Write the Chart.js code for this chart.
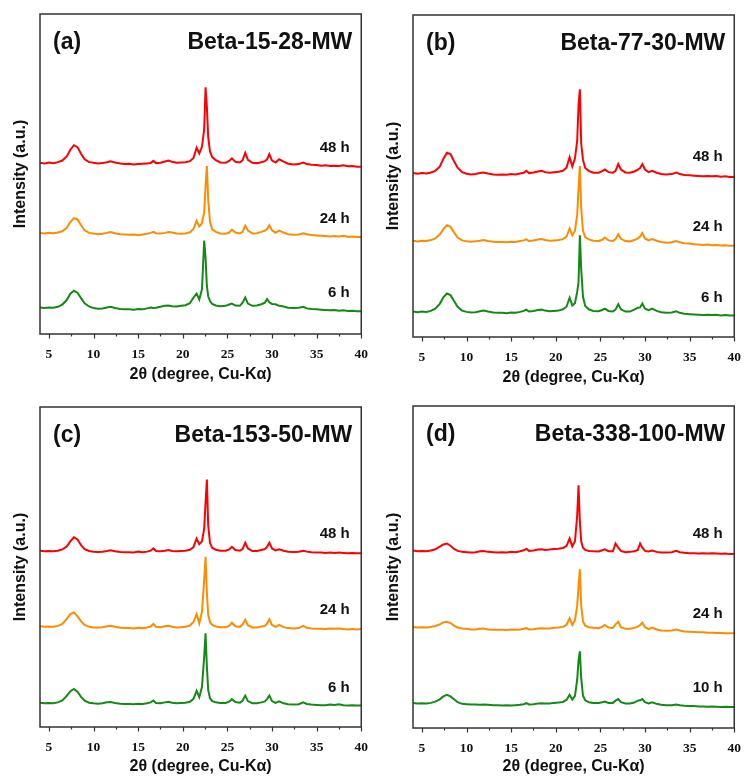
<!DOCTYPE html>
<html>
<head>
<meta charset="utf-8">
<script src="https://cdn.jsdelivr.net/npm/chart.js@4.4.1/dist/chart.umd.min.js"></script>
<style>
  body { margin: 0; background: #fff; }
  #page { position: relative; width: 745px; height: 776px; overflow: hidden; }
  .panel { position: absolute; }
</style>
</head>
<body>
<div id="page">
  <div class="panel" style="left:0;top:0"><canvas id="chart-a" width="372" height="390"></canvas></div>
  <div class="panel" style="left:372px;top:0"><canvas id="chart-b" width="373" height="390"></canvas></div>
  <div class="panel" style="left:0;top:390px"><canvas id="chart-c" width="372" height="386"></canvas></div>
  <div class="panel" style="left:372px;top:390px"><canvas id="chart-d" width="373" height="386"></canvas></div>
</div>
<script>
// 2θ (degree) grid shared by every pattern
const twoTheta = [
  4, 4.5, 5, 5.5, 6, 6.5, 7,
  7.4, 7.8, 8.2, 8.6, 9, 9.5, 10,
  10.5, 11, 11.5, 11.9, 12.4, 13, 13.5,
  14, 14.5, 15, 15.5, 16, 16.4, 16.7,
  17, 17.5, 18, 18.4, 18.8, 19.3, 19.8,
  20.3, 20.8, 21.2, 21.55, 21.85, 22.15, 22.4,
  22.55, 22.7, 22.85, 23.05, 23.3, 23.7, 24.2,
  24.8, 25.2, 25.5, 25.9, 26.4, 26.7, 27.0,
  27.3, 27.8, 28.3, 28.8, 29.2, 29.45, 29.7,
  30.0, 30.4, 30.8, 31.3, 31.8, 32.4, 33.0,
  33.5, 33.9, 34.4, 35.0, 35.5, 36.0, 36.5,
  37.0, 37.5, 38.0, 38.5, 39.0, 39.5, 40
];

// (a) Beta-15-28-MW, stacked intensities (a.u.)
const a48 = [
  53.5, 53.3, 53.6, 53.4, 53.7, 54.2, 55.5,
  57.6, 59.0, 58.4, 56.3, 54.6, 53.7, 53.5,
  53.3, 53.4, 53.7, 54.0, 53.6, 53.3, 53.1,
  53.2, 53.0, 53.1, 53.2, 53.3, 53.4, 54.1,
  53.4, 53.5, 53.9, 54.2, 53.8, 53.5, 53.6,
  53.7, 54.0, 55.0, 58.2, 56.4, 58.5, 64.0,
  77.1, 71.0, 61.5, 57.0, 55.3, 54.3, 53.6,
  53.5, 54.1, 54.9, 53.8, 53.6, 54.3, 56.6,
  54.4, 53.5, 53.4, 53.7, 54.0, 54.6, 56.2,
  54.2, 53.6, 54.6, 53.9, 53.2, 53.0, 53.1,
  53.6, 53.1, 52.9, 52.8, 52.6, 52.7, 52.5,
  52.6, 52.5, 52.7, 52.4, 52.5, 52.3, 52.3
];
const a24 = [
  31.6, 31.4, 31.6, 31.5, 31.7, 32.1, 33.2,
  35.0, 36.2, 35.8, 34.0, 32.4, 31.6, 31.4,
  31.2, 31.3, 31.6, 31.9, 31.5, 31.2, 31.1,
  31.0, 31.1, 30.9, 31.1, 31.3, 31.6, 31.9,
  31.5, 31.4, 31.6, 31.9, 31.7, 31.4, 31.3,
  31.4, 31.8, 32.8, 35.4, 33.6, 34.6, 38.0,
  46.0, 52.5, 42.0, 35.0, 32.7, 31.9, 31.4,
  31.3, 31.7, 32.6, 31.7, 31.4, 31.9, 33.8,
  32.3, 31.4, 31.5, 31.9, 32.3, 32.8, 34.0,
  32.4, 31.6, 32.3, 31.7, 31.2, 31.0, 31.1,
  31.5, 31.2, 30.9, 30.8, 30.7, 30.6, 30.5,
  30.6, 30.5, 30.7, 30.4, 30.5, 30.3, 30.3
];
const a6 = [
  8.3, 8.1, 8.3, 8.2, 8.5, 9.2, 10.6,
  12.6, 13.5, 12.9, 11.2, 9.6, 8.6, 8.1,
  7.9, 8.0, 8.3, 8.5, 8.1, 7.8, 7.7,
  7.7, 7.6, 7.8, 7.7, 8.0, 8.3, 8.1,
  8.2, 8.5, 8.8, 8.9, 8.7, 8.6, 8.8,
  9.0, 9.6, 11.4, 12.6, 10.8, 14.0, 29.2,
  24.0, 15.0, 11.8, 10.3, 9.4, 8.9, 8.7,
  8.8, 9.2, 9.5, 8.9, 8.8, 9.8, 11.4,
  9.5, 8.8, 8.9, 9.3, 9.8, 10.9, 9.9,
  9.4, 9.3, 8.8, 8.6, 8.2, 8.1, 8.2,
  8.5, 8.0, 7.8, 7.7, 7.6, 7.5, 7.4,
  7.5, 7.3, 7.4, 7.2, 7.3, 7.1, 7.1
];

// (b) Beta-77-30-MW
const b48 = [
  50.9, 50.7, 50.9, 50.8, 51.1, 51.6, 52.9,
  55.3, 57.2, 56.8, 54.6, 52.6, 51.2, 50.7,
  50.5, 50.6, 50.9, 51.1, 50.8, 50.5, 50.4,
  50.5, 50.4, 50.6, 50.5, 50.8, 51.0, 51.6,
  50.9, 51.1, 51.4, 51.6, 51.2, 51.0, 51.2,
  51.3, 51.6, 52.6, 55.8, 53.0, 55.5, 61.0,
  72.0, 76.9, 60.0, 55.0, 52.5, 51.6, 51.0,
  51.0, 51.5, 52.0, 51.2, 51.0, 51.6, 53.7,
  52.0, 51.1, 51.0, 51.4, 52.0, 52.5, 53.7,
  52.0, 51.2, 51.6, 51.0, 50.6, 50.5, 50.6,
  51.1, 50.6, 50.3, 50.2, 50.1, 50.0, 49.9,
  50.0, 49.9, 50.0, 49.8, 49.9, 49.7, 49.7
];
const b24 = [
  29.9, 29.7, 29.9, 29.8, 30.1, 30.6, 31.8,
  33.5, 34.7, 34.2, 32.5, 30.9, 30.0, 29.7,
  29.6, 29.7, 29.9, 30.1, 29.8, 29.6, 29.5,
  29.5, 29.4, 29.6, 29.5, 29.8, 30.0, 30.3,
  29.8, 30.0, 30.3, 30.4, 30.1, 29.9, 30.0,
  30.1, 30.4, 31.2, 33.7, 31.6, 33.0, 38.0,
  46.0, 53.1, 40.0, 33.0, 31.0, 30.3, 29.9,
  29.8, 30.2, 30.9, 30.0, 29.8, 30.4, 31.9,
  30.5, 29.8, 29.7, 30.1, 30.6, 31.2, 32.3,
  30.6, 30.0, 30.4, 29.9, 29.5, 29.3, 29.4,
  29.8, 29.4, 29.1, 29.0, 28.8, 28.7, 28.6,
  28.7, 28.5, 28.6, 28.4, 28.5, 28.3, 28.3
];
const b6 = [
  7.9, 7.7, 7.9, 7.8, 8.1, 8.8, 10.3,
  12.3, 13.5, 13.0, 11.2, 9.4, 8.2, 7.8,
  7.6, 7.7, 8.0, 8.2, 7.9, 7.6, 7.5,
  7.5, 7.4, 7.6, 7.5, 7.8, 8.1, 8.5,
  7.9, 8.1, 8.4, 8.5, 8.2, 8.0, 8.1,
  8.2, 8.6, 9.4, 12.2, 9.8, 10.5, 14.0,
  17.0, 31.6, 21.0, 12.5, 9.6, 8.6, 8.1,
  8.0, 8.4, 8.8, 8.1, 7.9, 8.5, 10.2,
  8.6, 7.9, 7.9, 8.5, 9.1, 9.2, 10.4,
  8.8, 8.3, 8.8, 8.1, 7.7, 7.5, 7.6,
  8.0, 7.5, 7.2, 7.1, 7.0, 6.9, 6.8,
  6.9, 6.8, 6.9, 6.7, 6.8, 6.7, 6.7
];

// (c) Beta-153-50-MW
const c48 = [
  55.1, 54.9, 55.0, 54.9, 55.1, 55.5, 56.4,
  58.0, 59.3, 58.6, 56.8, 55.6, 55.0, 54.8,
  54.7, 54.8, 55.0, 55.2, 54.9, 54.7, 54.6,
  54.6, 54.5, 54.8, 54.6, 54.8, 55.1, 55.8,
  55.0, 54.9, 55.1, 55.3, 55.0, 54.9, 55.0,
  55.1, 55.4, 56.2, 58.9, 57.1, 58.0, 62.0,
  70.0, 77.3, 63.0, 57.5, 56.0, 55.4, 55.1,
  55.1, 55.5, 56.3, 55.3, 55.1, 55.6, 57.6,
  55.8, 55.0, 55.0, 55.3, 55.6, 56.3, 57.6,
  55.8, 55.2, 55.5, 55.1, 54.8, 54.7, 54.8,
  55.1, 54.8, 54.6, 54.5, 54.5, 54.4, 54.5,
  54.4, 54.5, 54.4, 54.3, 54.4, 54.3, 54.3
];
const c24 = [
  31.5, 31.3, 31.4, 31.3, 31.6, 32.2, 33.8,
  35.3, 35.8, 34.6, 33.0, 31.9, 31.3, 31.1,
  31.1, 31.2, 31.5, 31.6, 31.3, 31.0, 30.9,
  30.9, 30.8, 31.0, 30.9, 31.1, 31.4, 32.2,
  31.3, 31.2, 31.5, 31.6, 31.3, 31.1, 31.2,
  31.3, 31.7, 32.8, 35.3, 32.4, 36.0, 46.0,
  53.2, 42.0, 35.0, 32.8, 31.9, 31.4, 31.2,
  31.2, 31.6, 32.6, 31.5, 31.3, 32.0, 33.5,
  31.8, 31.1, 31.1, 31.4, 31.6, 32.4, 33.7,
  31.9, 31.3, 31.9, 31.2, 30.9, 30.8, 30.9,
  31.6, 31.0, 30.8, 30.7, 30.7, 30.6, 30.8,
  30.7, 30.8, 30.6, 30.5, 30.6, 30.5, 30.6
];
const c6 = [
  7.6, 7.4, 7.5, 7.4, 7.7, 8.3, 9.7,
  11.2, 11.9, 11.0, 9.4, 8.2, 7.6, 7.4,
  7.3, 7.4, 7.7, 7.8, 7.5, 7.3, 7.2,
  7.2, 7.1, 7.3, 7.2, 7.4, 7.7, 8.3,
  7.5, 7.4, 7.7, 7.9, 7.6, 7.4, 7.5,
  7.6, 7.9, 8.8, 11.3, 9.3, 12.5, 22.0,
  29.3, 19.0, 11.5, 9.0, 8.1, 7.7, 7.5,
  7.5, 7.9, 8.7, 7.8, 7.6, 8.2, 9.8,
  8.1, 7.4, 7.4, 7.7, 8.0, 8.7, 9.8,
  8.1, 7.5, 8.0, 7.4, 7.1, 7.0, 7.1,
  7.7, 7.2, 7.0, 6.9, 6.8, 6.8, 7.0,
  6.9, 7.1, 6.8, 6.7, 6.8, 6.7, 6.7
];

// (d) Beta-338-100-MW
const d48 = [
  55.1, 54.9, 55.0, 54.9, 55.1, 55.5, 56.3,
  57.0, 57.3, 56.6, 55.6, 55.0, 54.7, 54.6,
  54.5, 54.6, 54.9, 55.0, 54.7, 54.6, 54.5,
  54.6, 54.5, 54.7, 54.6, 54.9, 55.2, 55.6,
  55.0, 55.1, 55.4, 55.5, 55.3, 55.4, 55.6,
  55.7, 55.9, 56.5, 58.9, 56.4, 58.0, 66.0,
  75.4, 64.0, 58.0, 56.0, 55.3, 55.0, 54.9,
  54.8, 55.2, 55.5, 54.9, 54.9, 57.3, 56.0,
  55.0, 54.6, 54.7, 54.9, 55.3, 57.3, 56.0,
  55.0, 54.8, 55.1, 54.7, 54.5, 54.5, 54.6,
  55.0, 54.6, 54.4, 54.3, 54.3, 54.2, 54.3,
  54.2, 54.3, 54.2, 54.1, 54.2, 54.0, 54.0
];
const d24 = [
  31.4, 31.2, 31.3, 31.2, 31.4, 31.7, 32.2,
  32.8, 33.0, 32.6, 31.8, 31.2, 30.9, 30.8,
  30.6, 30.6, 30.8, 30.9, 30.6, 30.5, 30.5,
  30.5, 30.4, 30.6, 30.5, 30.6, 30.8, 31.0,
  30.6, 30.7, 30.9, 31.0, 30.9, 30.9, 31.1,
  31.2, 31.4, 32.0, 34.1, 32.0, 33.5, 38.0,
  44.0, 49.3, 38.0, 33.0, 31.8, 31.3, 31.1,
  31.0, 31.4, 32.0, 31.2, 31.1, 32.2, 33.0,
  31.3, 30.8, 30.8, 31.1, 31.5, 32.0, 32.7,
  31.3, 30.7, 31.2, 30.6, 30.3, 30.2, 30.3,
  30.6, 30.3, 30.0, 29.9, 29.8, 29.7, 29.7,
  29.6, 29.6, 29.5, 29.5, 29.4, 29.4, 29.4
];
const d10 = [
  7.8, 7.6, 7.7, 7.6, 7.8, 8.2, 8.9,
  9.8, 10.3, 9.8, 8.9, 8.0, 7.5, 7.4,
  7.3, 7.3, 7.2, 7.3, 7.2, 7.1, 7.1,
  7.0, 7.1, 7.0, 7.1, 7.2, 7.4, 7.7,
  7.3, 7.4, 7.6, 7.7, 7.6, 7.6, 7.8,
  7.9, 8.1, 8.7, 10.3, 8.8, 10.0, 15.0,
  21.0, 23.8, 15.5, 10.0, 8.6, 8.0, 7.8,
  7.8, 8.0, 8.2, 7.8, 7.8, 8.5, 9.0,
  8.0, 7.6, 7.6, 7.9, 8.5, 8.6, 9.0,
  8.0, 7.6, 8.0, 7.5, 7.2, 7.1, 7.1,
  7.3, 7.1, 6.9, 6.8, 6.8, 6.7, 6.7,
  6.6, 6.7, 6.6, 6.5, 6.6, 6.5, 6.5
];

// curve labels and where they sit (intensity units, right edge at labelX)
const timesABC = ['48 h', '24 h', '6 h'];
const timesD = ['48 h', '24 h', '10 h'];
const labelYA = [57.0, 34.7, 11.7];
const labelYB = [54.8, 32.8, 11.0];
const labelYC = [59.0, 35.3, 11.0];
const labelYD = [58.9, 34.1, 11.3];
const labelX = 38.7;

// x axis ticks
const majorTicks = [5, 10, 15, 20, 25, 30, 35, 40];
const minorTicks = [7.5, 12.5, 17.5, 22.5, 27.5, 32.5, 37.5];

const colors = ['#ff0000', '#ff8c00', '#138a13'];
const SANS = "'Liberation Sans', Arial, sans-serif";
const SERIF = "'Liberation Serif', 'Times New Roman', serif";

// рамка, засечки и подписи внутри графика
function makeDecor(tag, title, names, labelY) {
    return {
        id: 'decor',
        afterDatasetsDraw(chart) {
            const { ctx, chartArea: a, scales: { x, y } } = chart;
            ctx.save();
            ctx.strokeStyle = '#333';
            ctx.lineWidth = 1.5;
            ctx.strokeRect(a.left, a.top, a.right - a.left, a.bottom - a.top);
            ctx.beginPath();
            majorTicks.forEach(v => {
                const px = Math.round(x.getPixelForValue(v)) + 0.5;
                ctx.moveTo(px, a.bottom);
                ctx.lineTo(px, a.bottom + 4.5);
            });
            minorTicks.forEach(v => {
                const px = Math.round(x.getPixelForValue(v)) + 0.5;
                ctx.moveTo(px, a.bottom);
                ctx.lineTo(px, a.bottom + 2.5);
            });
            ctx.lineWidth = 1.2;
            ctx.stroke();

            ctx.fillStyle = '#111';
            ctx.textBaseline = 'alphabetic';
            ctx.font = 'bold 23px ' + SANS;
            ctx.textAlign = 'left';
            ctx.fillText(tag, a.left + 13, a.top + 35);
            ctx.textAlign = 'right';
            ctx.fillText(title, a.right - 9, a.top + 35);

            ctx.font = 'bold 15px ' + SANS;
            names.forEach((t, i) => {
                ctx.fillText(t, x.getPixelForValue(labelX), y.getPixelForValue(labelY[i]));
            });
            ctx.restore();
        }
    };
}

function createPanel(id, tag, title, series, names, labelY, box) {
    const datasets = series.map((ys, i) => ({
        label: names[i],
        data: twoTheta.map((t, k) => ({ x: t, y: ys[k] })),
        borderColor: colors[i],
        borderWidth: 2,
        pointRadius: 0,
        tension: 0,
        fill: false
    }));

    new Chart(document.getElementById(id), {
        type: 'line',
        data: { datasets: datasets },
        options: {
            responsive: false,
            animation: false,
            events: [],
            layout: { padding: { left: box.padLeft, top: box.top, right: box.right, bottom: box.padBottom } },
            plugins: { legend: { display: false }, tooltip: { enabled: false } },
            scales: {
                x: {
                    type: 'linear',
                    min: 4,
                    max: 40,
                    afterBuildTicks: scale => { scale.ticks = majorTicks.map(v => ({ value: v })); },
                    afterFit: scale => { scale.height = box.xHeight; },
                    grid: { display: false },
                    border: { display: false },
                    ticks: { autoSkip: false, maxRotation: 0, padding: 4, color: '#111', font: { family: SERIF, size: 13.5, weight: 'bold' } },
                    title: { display: true, text: '2θ (degree, Cu-Kα)', color: '#111', padding: 0, font: { family: SANS, size: 16, weight: 'bold' } }
                },
                y: {
                    min: 0,
                    max: 100,
                    afterFit: scale => { scale.width = box.yWidth; },
                    grid: { display: false },
                    border: { display: false },
                    ticks: { display: false },
                    title: { display: true, text: 'Intensity (a.u.)', color: '#111', padding: 0, font: { family: SANS, size: 16, weight: 'bold' } }
                }
            }
        },
        plugins: [makeDecor(tag, title, names, labelY)]
    });
}

createPanel('chart-a', '(a)', 'Beta-15-28-MW', [a48, a24, a6], timesABC, labelYA,
    { padLeft: 11, yWidth: 29, top: 14, right: 10, xHeight: 50, padBottom: 6 });
createPanel('chart-b', '(b)', 'Beta-77-30-MW', [b48, b24, b6], timesABC, labelYB,
    { padLeft: 12, yWidth: 29, top: 15, right: 10, xHeight: 50, padBottom: 3 });
createPanel('chart-c', '(c)', 'Beta-153-50-MW', [c48, c24, c6], timesABC, labelYC,
    { padLeft: 11, yWidth: 29, top: 17, right: 10, xHeight: 49, padBottom: 0 });
createPanel('chart-d', '(d)', 'Beta-338-100-MW', [d48, d24, d10], timesD, labelYD,
    { padLeft: 12, yWidth: 29, top: 16, right: 9, xHeight: 48, padBottom: 0 });
</script>
</body>
</html>
